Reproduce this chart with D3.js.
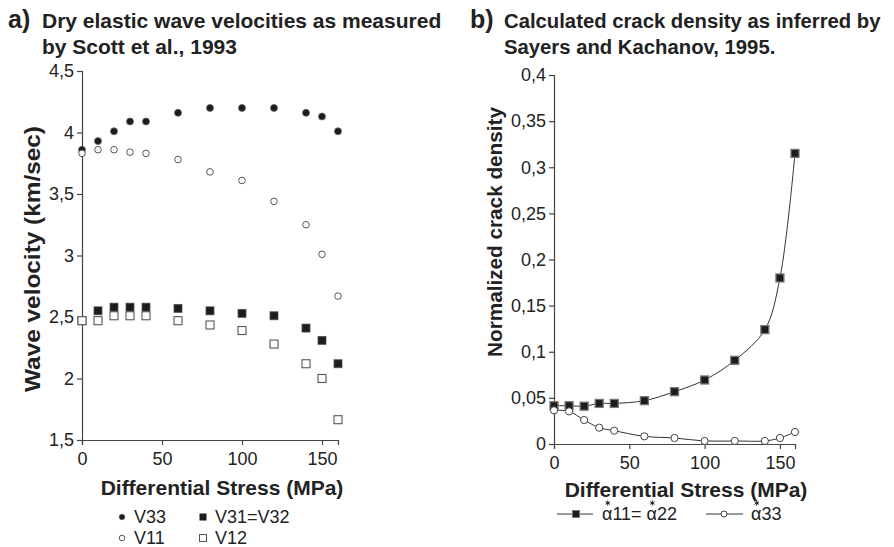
<!DOCTYPE html>
<html><head><meta charset="utf-8">
<script src="https://cdn.jsdelivr.net/npm/d3@7"></script>
<style>
body{margin:0;background:#fff;}
svg{font-family:"Liberation Sans",Arial,Helvetica,sans-serif;}
.axis path,.axis line{stroke:#444;stroke-width:1.2;}
.axis text{font-size:18px;fill:#222;font-family:"Liberation Sans",Arial,sans-serif;}
</style></head>
<body>
<svg id="c" width="894" height="547"></svg>
<script>
// ---- Data ----
const stressA = [0,10,20,30,40,60,80,100,120,140,150,160];
const v33 = [3.86,3.93,4.01,4.09,4.09,4.16,4.20,4.20,4.20,4.16,4.13,4.01];
const v11 = [3.83,3.86,3.86,3.84,3.83,3.78,3.68,3.61,3.44,3.25,3.01,2.67];
const v31 = [2.47,2.55,2.58,2.58,2.58,2.57,2.55,2.53,2.51,2.41,2.31,2.12];
const v12 = [2.47,2.47,2.51,2.51,2.51,2.47,2.435,2.39,2.28,2.12,2.00,1.665];
const yTicksA = [1.5,2,2.5,3,3.5,4,4.5];
const xTicks = [0,50,100,150];

const stressB = [0,10,20,30,40,60,80,100,120,140,150,160];
const alpha11 = [0.0415,0.0415,0.041,0.044,0.044,0.047,0.0567,0.0694,0.0907,0.124,0.18,0.315];
const alpha33 = [0.0365,0.0354,0.026,0.0177,0.0144,0.0083,0.0065,0.0033,0.0033,0.0033,0.0065,0.013];
const yTicksB = [0,0.05,0.1,0.15,0.2,0.25,0.3,0.35,0.4];

const svg = d3.select("#c");
const fmt = d => String(d).replace(".", ",");
const ink = "#222";

// ---- Titles ----
function title(x, fs, label, lines){
  svg.append("text").attr("x", x).attr("y", 28).attr("font-weight","bold").attr("font-size",25).attr("fill",ink).text(label);
  svg.append("text").attr("x", x+34).attr("y", 28).attr("font-weight","bold").attr("font-size",fs).attr("fill",ink).text(lines[0]);
  svg.append("text").attr("x", x+34).attr("y", 54).attr("font-weight","bold").attr("font-size",fs).attr("fill",ink).text(lines[1]);
}
title(8, 21, "a)", ["Dry elastic wave velocities as measured","by Scott et al., 1993"]);
title(470, 20.3, "b)", ["Calculated crack density as inferred by","Sayers and Kachanov, 1995."]);

// ---- Panel A ----
const xA = d3.scaleLinear().domain([0,160]).range([82,338]);
const yA = d3.scaleLinear().domain([1.5,4.5]).range([440,71]);
svg.append("g").attr("class","axis").attr("transform","translate(0,440)")
  .call(d3.axisBottom(xA).tickValues(xTicks).tickSize(5).tickPadding(5).tickFormat(d=>d))
  .selectAll("text").attr("dy","0.85em");
svg.append("g").attr("class","axis").attr("transform","translate(82,0)")
  .call(d3.axisLeft(yA).tickValues(yTicksA).tickSize(5).tickPadding(3).tickFormat(fmt));
svg.append("text").attr("transform","translate(40,259) rotate(-90)").attr("text-anchor","middle")
  .attr("font-weight","bold").attr("font-size",22.5).attr("textLength",266).attr("lengthAdjust","spacingAndGlyphs")
  .attr("fill",ink).text("Wave velocity (km/sec)");
svg.append("text").attr("x",222).attr("y",495).attr("text-anchor","middle")
  .attr("font-weight","bold").attr("font-size",21).attr("fill",ink).text("Differential Stress (MPa)");

const gA = svg.append("g");
const sq = 8;
gA.selectAll(".v31").data(stressA).enter().append("rect")
  .attr("x",(d)=>xA(d)-sq/2).attr("y",(d,i)=>yA(v31[i])-sq/2).attr("width",sq).attr("height",sq)
  .attr("fill","#1c1c1c").attr("stroke","#555").attr("stroke-width",0.8);
gA.selectAll(".v12").data(stressA).enter().append("rect")
  .attr("x",(d)=>xA(d)-sq/2).attr("y",(d,i)=>yA(v12[i])-sq/2).attr("width",sq).attr("height",sq)
  .attr("fill","#fff").attr("stroke","#555").attr("stroke-width",1.1);
gA.selectAll(".v33").data(stressA).enter().append("circle")
  .attr("cx",(d)=>xA(d)).attr("cy",(d,i)=>yA(v33[i])).attr("r",3.5)
  .attr("fill","#1c1c1c").attr("stroke","#666").attr("stroke-width",0.8);
gA.selectAll(".v11").data(stressA).enter().append("circle")
  .attr("cx",(d)=>xA(d)).attr("cy",(d,i)=>yA(v11[i])).attr("r",3.3)
  .attr("fill","#fff").attr("stroke","#555").attr("stroke-width",1);

// Legend A
const lgA = svg.append("g").attr("font-size",18).attr("fill",ink);
lgA.append("circle").attr("cx",122).attr("cy",517).attr("r",2.8).attr("fill","#1c1c1c").attr("stroke","#666").attr("stroke-width",0.8);
lgA.append("text").attr("x",134).attr("y",523).text("V33");
lgA.append("circle").attr("cx",122).attr("cy",538).attr("r",2.8).attr("fill","#fff").attr("stroke","#555");
lgA.append("text").attr("x",134).attr("y",544).text("V11");
lgA.append("rect").attr("x",199.5).attr("y",513.5).attr("width",7).attr("height",7).attr("fill","#1c1c1c");
lgA.append("text").attr("x",215).attr("y",523).text("V31=V32");
lgA.append("rect").attr("x",199.5).attr("y",534.5).attr("width",7).attr("height",7).attr("fill","#fff").attr("stroke","#555");
lgA.append("text").attr("x",215).attr("y",544).text("V12");

// ---- Panel B ----
const xB = d3.scaleLinear().domain([0,160]).range([554,795]);
const yB = d3.scaleLinear().domain([0,0.4]).range([444,75]);
svg.append("g").attr("class","axis").attr("transform","translate(0,444)")
  .call(d3.axisBottom(xB).tickValues(xTicks).tickSize(5).tickPadding(5).tickFormat(d=>d))
  .selectAll("text").attr("dy","0.85em");
svg.append("g").attr("class","axis").attr("transform","translate(554,0)")
  .call(d3.axisLeft(yB).tickValues(yTicksB).tickSize(5).tickPadding(3).tickFormat(d=>d===0?"0":fmt(+d.toFixed(2))));
svg.append("text").attr("transform","translate(502,232) rotate(-90)").attr("text-anchor","middle")
  .attr("font-weight","bold").attr("font-size",21).attr("textLength",250).attr("lengthAdjust","spacingAndGlyphs")
  .attr("fill",ink).text("Normalized crack density");
svg.append("text").attr("x",686).attr("y",497).attr("text-anchor","middle")
  .attr("font-weight","bold").attr("font-size",21).attr("fill",ink).text("Differential Stress (MPa)");

const lineB = (arr)=>d3.line().x((d)=>xB(d)).y((d,i)=>yB(arr[i])).curve(d3.curveCatmullRom.alpha(0.5));
svg.append("path").datum(stressB).attr("d",lineB(alpha33)).attr("fill","none").attr("stroke","#333").attr("stroke-width",1);
svg.append("path").datum(stressB).attr("d",lineB(alpha11)).attr("fill","none").attr("stroke","#333").attr("stroke-width",1);
const bs = 8;
svg.selectAll(".a11").data(stressB).enter().append("rect")
  .attr("x",(d)=>xB(d)-bs/2).attr("y",(d,i)=>yB(alpha11[i])-bs/2).attr("width",bs).attr("height",bs)
  .attr("fill","#1c1c1c").attr("stroke","#777").attr("stroke-width",1.3);
svg.selectAll(".a33").data(stressB).enter().append("circle")
  .attr("cx",(d)=>xB(d)).attr("cy",(d,i)=>yB(alpha33[i])).attr("r",3.6)
  .attr("fill","#fff").attr("stroke","#444").attr("stroke-width",1);

// Legend B
const lgB = svg.append("g").attr("font-size",18).attr("fill",ink);
lgB.append("line").attr("x1",557).attr("x2",593).attr("y1",514).attr("y2",514).attr("stroke","#333");
lgB.append("rect").attr("x",572.5).attr("y",510.5).attr("width",7).attr("height",7).attr("fill","#1c1c1c").attr("stroke","#777");
const t1 = lgB.append("text").attr("x",602).attr("y",520).text("α11= α22");
lgB.append("line").attr("x1",706).attr("x2",743).attr("y1",514).attr("y2",514).attr("stroke","#333");
lgB.append("circle").attr("cx",724).attr("cy",514).attr("r",3).attr("fill","#fff").attr("stroke","#444");
const t2 = lgB.append("text").attr("x",751).attr("y",520).text("α33");

// asterisks drawn above each alpha glyph
function star(cx, cy, r){
  const g = lgB.append("g").attr("stroke","#222").attr("stroke-width",1);
  [90, 30, -30].forEach(a=>{
    const rad = a*Math.PI/180;
    g.append("line").attr("x1",cx-r*Math.cos(rad)).attr("y1",cy-r*Math.sin(rad))
      .attr("x2",cx+r*Math.cos(rad)).attr("y2",cy+r*Math.sin(rad));
  });
}
function starAbove(textSel, idx){
  const b = textSel.node().getExtentOfChar(idx);
  star(b.x + b.width*0.55, 503, 2.6);
}
starAbove(t1, 0); starAbove(t1, 5); starAbove(t2, 0);
</script>
</body></html>
